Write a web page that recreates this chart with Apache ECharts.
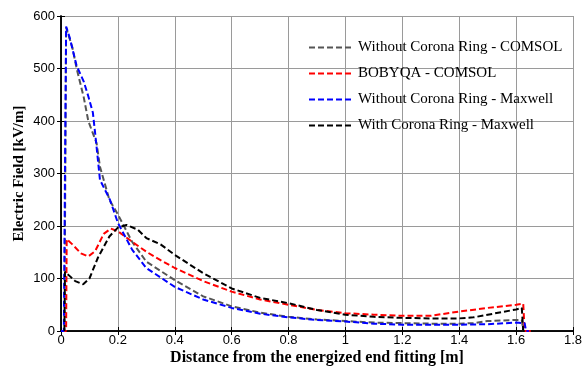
<!DOCTYPE html>
<html>
<head>
<meta charset="utf-8">
<script src="https://cdn.jsdelivr.net/npm/echarts@6/dist/echarts.min.js"></script>
<style>
  html, body { margin: 0; padding: 0; background: #fff; }
  #chart { width: 584px; height: 371px; }
</style>
</head>
<body>
<div id="chart"></div>
<script>
// values
var seriesNames = [
	'Without Corona Ring - COMSOL',
	'BOBYQA - COMSOL',
	'Without Corona Ring - Maxwell',
	'With Corona Ring - Maxwell'
];

var grayX = [0, 0.012, 0.018, 0.04, 0.055, 0.08, 0.096, 0.125, 0.137, 0.17, 0.2, 0.25, 0.3, 0.4, 0.5, 0.6, 0.7, 0.8, 0.9, 1.0, 1.1, 1.2, 1.3, 1.4, 1.45, 1.5, 1.6, 1.62, 1.625];
var grayY = [0, 0, 578, 540, 500, 445, 400, 358, 313, 250, 222, 170, 132, 97, 66, 47, 35, 27, 22, 19, 16, 15, 14, 14, 15, 19, 21, 21, 0];

var redX = [0, 0.018, 0.02, 0.04, 0.07, 0.096, 0.12, 0.15, 0.175, 0.2, 0.25, 0.3, 0.35, 0.4, 0.5, 0.6, 0.7, 0.8, 0.9, 1.0, 1.1, 1.2, 1.3, 1.4, 1.5, 1.6, 1.625, 1.63, 1.66];
var redY = [0, 0, 175, 165, 148, 142, 152, 185, 195, 190, 170, 151, 135, 120, 95, 75, 60, 50, 40, 34, 31, 29, 29, 37, 44, 50, 52, 0, 0];

var blueX = [0, 0.01, 0.014, 0.018, 0.03, 0.055, 0.08, 0.096, 0.112, 0.12, 0.137, 0.172, 0.2, 0.25, 0.3, 0.4, 0.5, 0.6, 0.7, 0.8, 0.9, 1.0, 1.1, 1.2, 1.3, 1.4, 1.5, 1.6, 1.63, 1.635, 1.645];
var blueY = [0, 0, 300, 580, 560, 505, 475, 447, 416, 377, 288, 250, 206, 155, 120, 84, 60, 44, 33, 26, 21, 18, 14, 12, 12, 12, 13, 16, 15, 0, 0];

var blackX = [0.012, 0.014, 0.03, 0.05, 0.078, 0.1, 0.13, 0.17, 0.2, 0.23, 0.27, 0.3, 0.35, 0.4, 0.5, 0.6, 0.7, 0.8, 0.9, 1.0, 1.1, 1.2, 1.3, 1.4, 1.45, 1.5, 1.6, 1.62, 1.625];
var blackY = [0, 113, 105, 95, 89, 100, 140, 180, 197, 202, 193, 177, 165, 145, 110, 81, 63, 53, 40, 31, 27, 25, 24, 24, 26, 31, 41, 44, 0];

var lineColors = ['#555555', '#ff0000', '#0000ff', '#000000'];

function pairs(xs, ys){
	var out = [];
	for (var i = 0; i < xs.length; i++) {
		out.push([xs[i], ys[i]]);
	}
	return out;
}

function makeSeries(name, color, xs, ys){
	return {
		name: name,
		type: 'line',
		symbol: 'none',
		animation: false,
		lineStyle: { color: color, width: 2, type: [6, 3] },
		itemStyle: { color: color },
		data: pairs(xs, ys)
	};
}

var tickFont = { fontFamily: 'Liberation Sans', fontSize: 13, color: '#000' };
var gridLine = { show: true, lineStyle: { color: '#9a9a9a', type: 'solid', width: 1 } };
var frameTick = { inside: true, length: 4, lineStyle: { color: '#000' } };
var frameLine = { show: true, lineStyle: { color: '#000', width: 1.5 } };

var myChart = echarts.init(document.getElementById('chart'));
myChart.setOption({
	animation: false,
	grid: { left: 61, right: 11, top: 16, bottom: 40, outerBoundsMode: 'none' },
	legend: {
		data: seriesNames,
		orient: 'vertical',
		left: 303,
		top: 35,
		itemWidth: 44,
		itemHeight: 10,
		itemGap: 11,
		itemStyle: { opacity: 0 },
		textStyle: { fontFamily: 'Liberation Serif', fontSize: 15, color: '#000' }
	},
	xAxis: [{
		type: 'value',
		min: 0, max: 1.8, interval: 0.2,
		name: 'Distance from the energized end fitting [m]',
		nameLocation: 'middle',
		nameGap: 19,
		nameMoveOverlap: false,
		nameTextStyle: { fontFamily: 'Liberation Serif', fontSize: 16, fontWeight: 'bold', color: '#000' },
		axisLine: frameLine,
		axisTick: frameTick,
		axisLabel: Object.assign({ margin: 3 }, tickFont),
		splitLine: gridLine
	}, {
		type: 'value',
		position: 'top',
		min: 0, max: 1.8, interval: 0.2,
		axisLine: frameLine,
		axisTick: frameTick,
		axisLabel: { show: false },
		splitLine: { show: false }
	}],
	yAxis: [{
		type: 'value',
		min: 0, max: 600, interval: 100,
		name: 'Electric Field [kV/m]',
		nameLocation: 'middle',
		nameGap: 34,
		nameMoveOverlap: false,
		nameTextStyle: { fontFamily: 'Liberation Serif', fontSize: 15, fontWeight: 'bold', color: '#000' },
		axisLine: frameLine,
		axisTick: frameTick,
		axisLabel: Object.assign({ margin: 6 }, tickFont),
		splitLine: gridLine
	}, {
		type: 'value',
		position: 'right',
		min: 0, max: 600, interval: 100,
		axisLine: frameLine,
		axisTick: frameTick,
		axisLabel: { show: false },
		splitLine: { show: false }
	}],
	series: [
		makeSeries(seriesNames[0], lineColors[0], grayX, grayY),
		makeSeries(seriesNames[1], lineColors[1], redX, redY),
		makeSeries(seriesNames[2], lineColors[2], blueX, blueY),
		makeSeries(seriesNames[3], lineColors[3], blackX, blackY)
	]
});
</script>
</body>
</html>
